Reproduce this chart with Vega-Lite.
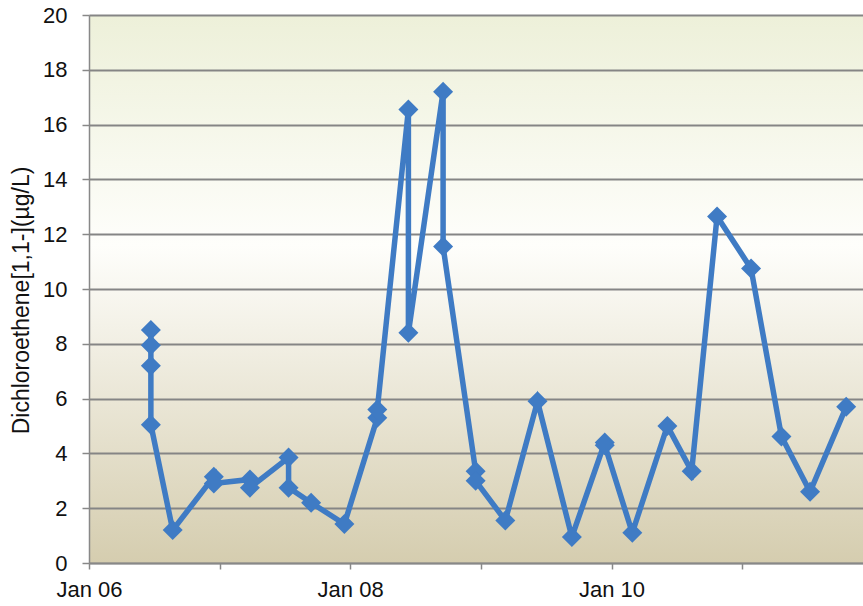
{
  "$schema": "https://vega.github.io/schema/vega-lite/v6.json",
  "width": 774,
  "height": 548,
  "autosize": {"type": "none"},
  "padding": {"left": 89, "top": 15, "right": 0, "bottom": 43},
  "background": "#ffffff",
  "view": {
    "stroke": null,
    "fill": {
      "gradient": "linear",
      "x1": 0, "y1": 0, "x2": 0, "y2": 1,
      "stops": [
        {"offset": 0, "color": "#edf0d9"},
        {"offset": 0.42, "color": "#fefefb"},
        {"offset": 1, "color": "#d5cdaf"}
      ]
    }
  },
  "config": {
    "font": "Liberation Sans",
    "axis": {
      "labelFont": "Liberation Sans",
      "titleFont": "Liberation Sans",
      "labelColor": "#111111",
      "titleColor": "#111111",
      "domainColor": "#888888",
      "tickColor": "#888888",
      "domainWidth": 1.5,
      "tickWidth": 1.5
    }
  },
  "data": {
    "values": [
      {"i": 1, "date": "2006-06-23", "value": 8.5},
      {"i": 2, "date": "2006-06-23", "value": 7.95},
      {"i": 3, "date": "2006-06-23", "value": 7.2},
      {"i": 4, "date": "2006-06-23", "value": 5.05},
      {"i": 5, "date": "2006-08-23", "value": 1.2},
      {"i": 6, "date": "2006-12-16", "value": 3.15},
      {"i": 7, "date": "2006-12-16", "value": 2.9},
      {"i": 8, "date": "2007-03-27", "value": 3.05},
      {"i": 9, "date": "2007-03-27", "value": 2.75},
      {"i": 10, "date": "2007-07-13", "value": 3.85},
      {"i": 11, "date": "2007-07-13", "value": 2.75},
      {"i": 12, "date": "2007-09-14", "value": 2.2},
      {"i": 13, "date": "2007-12-16", "value": 1.42},
      {"i": 14, "date": "2008-03-17", "value": 5.3},
      {"i": 15, "date": "2008-03-17", "value": 5.6},
      {"i": 16, "date": "2008-06-12", "value": 16.55},
      {"i": 17, "date": "2008-06-12", "value": 8.4},
      {"i": 18, "date": "2008-09-17", "value": 17.2},
      {"i": 19, "date": "2008-09-17", "value": 11.55},
      {"i": 20, "date": "2008-12-17", "value": 3.35},
      {"i": 21, "date": "2008-12-17", "value": 3.0},
      {"i": 22, "date": "2009-03-10", "value": 1.55},
      {"i": 23, "date": "2009-06-08", "value": 5.9},
      {"i": 24, "date": "2009-09-12", "value": 0.95},
      {"i": 25, "date": "2009-12-13", "value": 4.4},
      {"i": 26, "date": "2009-12-13", "value": 4.3},
      {"i": 27, "date": "2010-02-28", "value": 1.1},
      {"i": 28, "date": "2010-06-06", "value": 5.0},
      {"i": 29, "date": "2010-08-13", "value": 3.35},
      {"i": 30, "date": "2010-10-23", "value": 12.65},
      {"i": 31, "date": "2011-01-26", "value": 10.75},
      {"i": 32, "date": "2011-04-21", "value": 4.62},
      {"i": 33, "date": "2011-07-10", "value": 2.6},
      {"i": 34, "date": "2011-10-19", "value": 5.7}
    ],
    "format": {"parse": {"date": "date:'%Y-%m-%d'"}}
  },
  "encoding": {
    "x": {
      "field": "date",
      "type": "temporal",
      "scale": {
        "domain": [
          {"year": 2006, "month": 1, "date": 1},
          {"year": 2011, "month": 12, "date": 5}
        ]
      },
      "axis": {
        "title": null,
        "grid": false,
        "values": [
          {"year": 2006, "month": 1, "date": 1},
          {"year": 2007, "month": 1, "date": 1},
          {"year": 2008, "month": 1, "date": 1},
          {"year": 2009, "month": 1, "date": 1},
          {"year": 2010, "month": 1, "date": 1},
          {"year": 2011, "month": 1, "date": 1}
        ],
        "labelExpr": "year(datum.value) % 2 == 0 ? timeFormat(datum.value, '%b %y') : ''",
        "labelFontSize": 22,
        "labelPadding": 10,
        "tickSize": 6,
        "labelFlush": false,
        "labelOverlap": false
      }
    },
    "y": {
      "field": "value",
      "type": "quantitative",
      "scale": {"domain": [0, 20], "nice": false, "zero": true},
      "axis": {
        "title": "Dichloroethene[1,1-](µg/L)",
        "values": [0, 2, 4, 6, 8, 10, 12, 14, 16, 18, 20],
        "grid": true,
        "gridColor": "#858585",
        "gridWidth": 2,
        "labelFontSize": 22,
        "labelPadding": 15,
        "tickSize": 7,
        "titleFontSize": 23,
        "titleFontWeight": "normal",
        "titleX": -68,
        "titleY": 285,
        "titleBaseline": "middle",
        "titleAngle": -90
      }
    },
    "order": {"field": "i", "type": "quantitative"}
  },
  "layer": [
    {"mark": {"type": "line", "color": "#3f7bc4", "strokeWidth": 5.5}},
    {"mark": {"type": "point", "shape": "diamond", "filled": true, "size": 400, "color": "#3f7bc4", "opacity": 1}}
  ]
}
